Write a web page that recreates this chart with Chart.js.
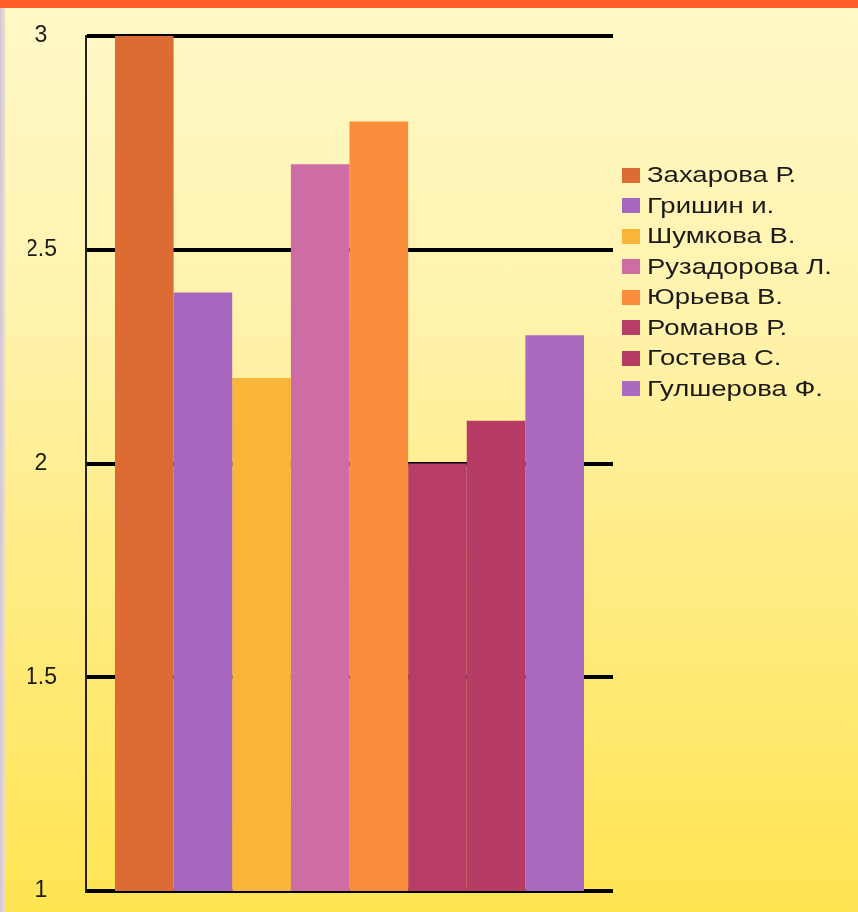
<!DOCTYPE html>
<html>
<head>
<meta charset="utf-8">
<script src="https://cdn.jsdelivr.net/npm/chart.js@4/dist/chart.umd.min.js"></script>
<style>
  html, body { margin: 0; padding: 0; }
  body {
    width: 858px; height: 912px; position: relative; overflow: hidden;
    background: linear-gradient(to bottom, #FFF8C8 0px, #FFF3AE 300px, #FFEC86 560px, #FFE452 912px);
    font-family: "Liberation Sans", Arial, sans-serif;
  }
  #topband { position: absolute; left: 0; top: 0; width: 858px; height: 8px; background: #FF5E2A; }
  #leftstrip { position: absolute; left: 0; top: 8px; width: 6px; height: 904px;
    background: linear-gradient(to right, #D3C6D6, #E6DAD2 70%, rgba(255,255,255,0)); }
  #wrap { position: absolute; left: 0; top: 0; width: 858px; height: 912px; }
  #legend { position: absolute; left: 622px; top: 160px; }
  .item { height: 30.5px; display: flex; align-items: center; font-size: 22px; color: #1b1b1b; white-space: nowrap; }
  .box { width: 18px; height: 15px; margin-right: 7px; flex: none; }
  .txt { display: inline-block; transform: scaleX(1.25); transform-origin: left center; }
</style>
</head>
<body>
<div id="topband"></div>
<div id="leftstrip"></div>
<div id="wrap"><canvas id="c" width="858" height="912"></canvas></div>
<div id="legend"></div>
<script>
// Students and their average marks
const names = ["Захарова Р.", "Гришин и.", "Шумкова В.", "Рузадорова Л.", "Юрьева В.", "Романов Р.", "Гостева С.", "Гулшерова Ф."];
const marks = [3, 2.4, 2.2, 2.7, 2.8, 2.0, 2.1, 2.3];
const colors = ["#DD6B34", "#A867BE", "#F9B53A", "#CE6CA5", "#F98D3B", "#B83C68", "#B63C66", "#A96ABF"];
const yTicks = [1, 1.5, 2, 2.5, 3];

const datasets = names.map((n, i) => ({
  label: n,
  data: [marks[i]],
  backgroundColor: colors[i],
  borderWidth: 0,
  categoryPercentage: 0.89,
  barPercentage: 1.0
}));

new Chart(document.getElementById("c"), {
  type: "bar",
  data: { labels: [""], datasets },
  options: {
    responsive: false,
    animation: false,
    layout: { padding: { top: 36, bottom: 21, right: 245, left: 28 } },
    plugins: { legend: { display: false }, tooltip: { enabled: false } },
    scales: {
      x: { display: false },
      y: {
        min: 1, max: 3,
        afterBuildTicks: (s) => { s.ticks = yTicks.map(v => ({ value: v })); },
        afterFit: (s) => { s.width = 58; s.paddingTop = 0; s.paddingBottom = 0; },
        grid: { color: "#000", lineWidth: 4, drawTicks: false },
        border: { display: true, color: "#222", width: 2 },
        ticks: {
          crossAlign: "center",
          padding: 29,
          color: "#1b1b1b",
          font: { family: "'Liberation Sans', Arial, sans-serif", size: 23 },
          callback: (v) => String(v)
        }
      }
    }
  }
});

// Legend rows
const lg = document.getElementById("legend");
names.forEach((n, i) => {
  const row = document.createElement("div");
  row.className = "item";
  const b = document.createElement("span");
  b.className = "box";
  b.style.background = colors[i];
  const t = document.createElement("span");
  t.className = "txt";
  t.textContent = n;
  row.appendChild(b); row.appendChild(t);
  lg.appendChild(row);
});
</script>
</body>
</html>
